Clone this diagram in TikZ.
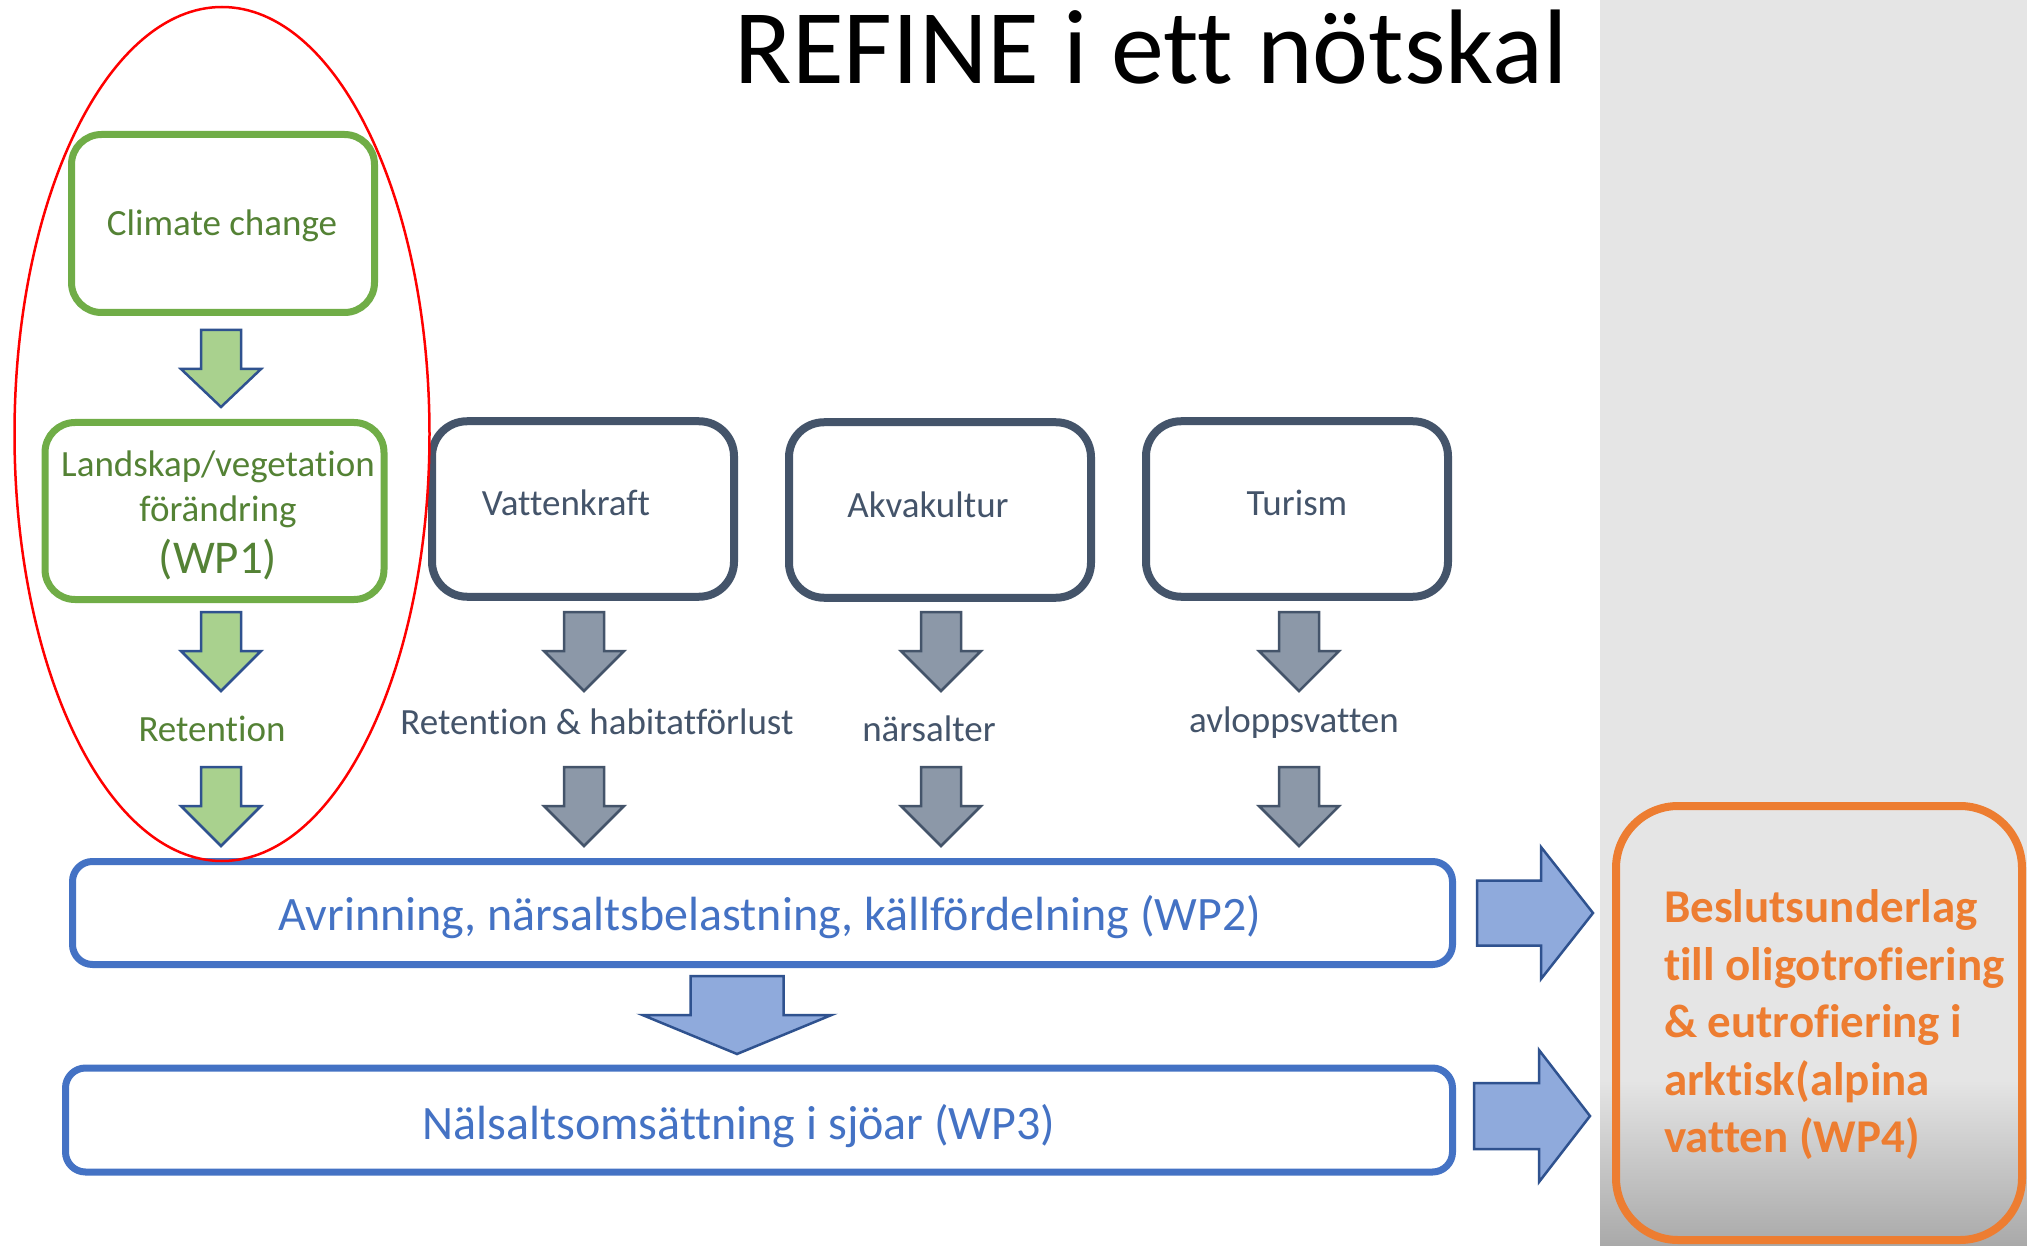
\documentclass[tikz,border=0pt]{standalone}
\usepackage{fontspec}
\setmainfont{Carlito}[Ligatures={NoCommon}]
\usetikzlibrary{calc}
\definecolor{grnline}{HTML}{70AD47}
\definecolor{grntext}{HTML}{548235}
\definecolor{grnfill}{HTML}{A9D18E}
\definecolor{arrline}{HTML}{2F528F}
\definecolor{gryline}{HTML}{44546A}
\definecolor{gryfill}{HTML}{8C98A8}
\definecolor{bluline}{HTML}{4472C4}
\definecolor{blufill}{HTML}{8FAADC}
\definecolor{orgline}{HTML}{ED7D31}
\definecolor{panel}{HTML}{E5E5E5}
\definecolor{paneldark}{HTML}{A9A9A9}
\tikzset{
  pics/downarrow/.style n args={4}{code={
    \path[pic actions] (-#1,0) -- (#1,0) -- (#1,#3) -- (#2,#3) -- (0,{#3+#4}) -- (-#2,#3) -- (-#1,#3) -- cycle;
  }},
  pics/rightarrow/.style n args={4}{code={
    \path[pic actions] (0,-#1) -- (#3,-#1) -- (#3,-#2) -- ({#3+#4},0) -- (#3,#2) -- (#3,#1) -- (0,#1) -- cycle;
  }},
  greenbox/.style={draw=grnline, line width=7pt, rounded corners=30pt, fill=white,
    text=grntext, font=\fontsize{37}{45}\selectfont},
  graybox/.style={draw=gryline, line width=8pt, rounded corners=35pt, fill=white},
  bluebox/.style={draw=bluline, line width=7pt, rounded corners=20pt, fill=white},
  bluetext/.style={text=bluline, font=\fontsize{48}{56}\selectfont},
  graytext/.style={text=gryline, font=\fontsize{37}{45}\selectfont},
  greentext/.style={text=grntext, font=\fontsize{37}{45}\selectfont},
  greenarrow/.style={fill=grnfill, draw=arrline, line width=2.5pt},
  grayarrow/.style={fill=gryfill, draw=gryline, line width=2.5pt},
  bluearrow/.style={fill=blufill, draw=arrline, line width=2.5pt},
}
\begin{document}
\begin{tikzpicture}[x=1pt,y=-1pt, every node/.style={inner sep=0pt, outer sep=0pt}]
\useasboundingbox (0,0) rectangle (2027,1246);
\fill[white] (0,0) rectangle (2027,1246);
\fill[panel] (1600,0) rectangle (2027,1246);
\shade[top color=panel, bottom color=paneldark] (1600,1080) rectangle (2027,1246);

% title
\node[font=\fontsize{106}{120}\selectfont, anchor=base] (title) at (1151,84) {REFINE i ett nötskal};

% green column
\node[greenbox, minimum width=303pt, minimum height=178pt] (cc) at (223,223.5) {};
\node[greentext] (ccT) at (222,226) {Climate change};
\node[greenbox, minimum width=339pt, minimum height=177pt] (lv) at (214.5,511) {};
\node[greentext, align=center] (lvT) at (218,515) {Landskap/vegetation\\förändring\\[7pt]{\fontsize{47}{52}\selectfont (WP1)}};
\pic[greenarrow] (ga1) at (221,330) {downarrow={20}{40}{39}{38}};
\pic[greenarrow] (ga2) at (221,612) {downarrow={20}{40}{39}{40}};
\node[greentext] (ret) at (212,729) {Retention};
\pic[greenarrow] (ga3) at (221,767) {downarrow={20}{40}{39}{40}};

% gray boxes
\node[graybox, minimum width=302pt, minimum height=175.5pt] (vk) at (583,509) {};
\node[graybox, minimum width=302pt, minimum height=175.5pt] (ak) at (940,510) {};
\node[graybox, minimum width=302pt, minimum height=175.5pt] (tu) at (1297,509) {};
\node[graytext] (vkT) at (566,503) {Vattenkraft};
\node[graytext] (akT) at (928,505) {Akvakultur};
\node[graytext] (tuT) at (1297,503) {Turism};

\pic[grayarrow] (va1) at (584,612) {downarrow={20}{40}{39}{40}};
\pic[grayarrow] (aa1) at (941,612) {downarrow={20}{40}{39}{40}};
\pic[grayarrow] (ta1) at (1299,612) {downarrow={20}{40}{39}{40}};
\node[graytext] (vkL) at (597,722) {Retention \& habitatförlust};
\node[graytext] (akL) at (929,729) {närsalter};
\node[graytext] (tuL) at (1294,723) {avloppsvatten};
\pic[grayarrow] (va2) at (584,767) {downarrow={20}{40}{39}{40}};
\pic[grayarrow] (aa2) at (941,767) {downarrow={20}{40}{39}{40}};
\pic[grayarrow] (ta2) at (1299,767) {downarrow={20}{40}{39}{40}};

% blue boxes
\node[bluebox, minimum width=1380pt, minimum height=103pt] (wp2) at (762.5,913) {};
\node[bluetext] (wp2T) at (770,917) {Avrinning, närsaltsbelastning, källfördelning (WP2)};
\pic[bluearrow] (ba) at (737,976) {downarrow={46.5}{94.5}{39}{39}};
\node[bluebox, minimum width=1387pt, minimum height=104pt] (wp3) at (759,1120) {};
\node[bluetext] (wp3T) at (739,1126) {Nälsaltsomsättning i sjöar (WP3)};

\pic[bluearrow] (ra1) at (1477,913) {rightarrow={32.5}{66}{64}{52}};
\pic[bluearrow] (ra2) at (1474,1116) {rightarrow={33}{66}{65}{51}};

% orange box
\begin{scope}
\clip (0,0) rectangle (2027,1246);
\node[draw=orgline, line width=8pt, rounded corners=62pt, minimum width=406pt, minimum height=434pt] (wp4) at (1819,1023) {};
\end{scope}
\node[text=orgline, font=\bfseries\fontsize{47}{57.5}\selectfont, align=left, anchor=west] (wp4T) at (1664,1025)
  {Beslutsunderlag\\till oligotrofiering\\\& eutrofiering i\\arktisk(alpina\\vatten (WP4)};

% red ellipse
\draw[red, line width=2.5pt] (222,434) ellipse [x radius=207.5, y radius=427];
\end{tikzpicture}
\end{document}
